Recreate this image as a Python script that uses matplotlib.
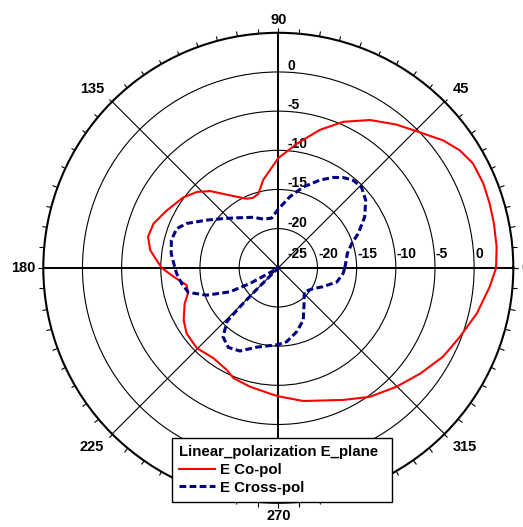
import numpy as np
import matplotlib
matplotlib.use("Agg")
import matplotlib.pyplot as plt
from matplotlib.ticker import MultipleLocator
from matplotlib.transforms import offset_copy

plt.rcParams["font.family"] = ["Liberation Sans", "DejaVu Sans"]
plt.rcParams["font.weight"] = "bold"

# ---------------------------------------------------------------------------
# Data (angle in degrees, level in dB)
# ---------------------------------------------------------------------------
co_theta = [0, 5.5, 11.6, 16.9, 22.4, 28.2, 32.9, 37.7, 44.7, 50.5, 58.2, 66,
            73.2, 81.6, 90, 94.9, 99.7, 105, 109.7, 114.7, 123.6, 131.6, 137,
            143.5, 152.7, 160.5, 166.6, 172.2, 180, 184.9, 190.7, 195.9, 200.9,
            208.9, 215.6, 224.6, 234.4, 243.2, 247.9, 256.6, 266.2, 270, 280.6,
            296.2, 305.4, 314.8, 323.3, 331.7, 339.2, 347, 354.9, 360]
co_db = [2.8, 3.0, 3.1, 3.2, 3.3, 3.2, 2.6, 1.6, -0.2, -1.3, -2.8, -4.6,
         -6.6, -9.0, -11.0, -12.5, -13.6, -15.2, -15.5, -15.3, -13.9, -11.9, -10.8,
         -9.9, -9.0, -8.1, -7.9, -8.5, -10.1, -11.6, -13.1, -13.0, -12.2,
         -11.2, -10.6, -10.4, -10.8, -10.4, -9.8, -9.4, -8.9, -8.6, -7.7,
         -6.2, -4.8, -3.6, -2.4, -1.1, -0.2, 1.0, 2.1, 2.8]

cx_theta = [0, 11.7, 18.4, 23.2, 30.5, 37.7, 44.2, 49.5, 54.2, 58.7, 64.6, 72.8,
            80.7, 90, 97.7, 107, 116.4, 129.8, 138, 146.4, 154.2, 158.9, 165.5,
            172.3, 180, 183.2, 189.2, 195.3, 200.9, 206.4, 209, 210, 212, 222,
            225, 225.5, 226.3, 231.4, 237.9, 245.2, 254.8, 266.3, 270, 276.4,
            286, 295.5, 306, 317.3, 329.4, 337.1, 346.5, 355, 360]
cx_db = [-16.5, -16.0, -15.1, -13.9, -12.2, -10.9, -10.2, -10.3, -10.8, -11.5, -12.6, -14.2,
         -15.8, -17.5, -18.6, -18.5, -17.8, -16.7, -15.6, -14.0, -12.0, -11.1, -10.9,
         -11.2, -11.8, -12.0, -12.5, -13.1, -15.2, -18.1, -20.9, -23.8, -25, -25,
         -21, -18, -15.5, -13.7, -13.0, -13.3, -14.5, -15.1, -15.2, -15.5,
         -16.5, -17.6, -19.4, -20.5, -19.8, -18.8, -17.3, -16.7, -16.5]

angle_labels = [0, 45, 90, 135, 180, 225, 270, 315]
ring_values = [-20, -15, -10, -5, 0]
r_min, r_max = -25, 5

fig = plt.figure(figsize=(5.23, 5.27), dpi=100)
ax = fig.add_axes([43.3 / 523, (527 - 267.8 - 235) / 527, 470 / 523, 470 / 527],
                  projection="polar")

ax.plot(np.deg2rad(co_theta), co_db, color="#ff0000", lw=1.5, label="E Co-pol", zorder=4)
ax.plot(np.deg2rad(cx_theta), cx_db, color="#000080", lw=2.2,
        ls=(0, (2.2, 1.1)), label="E Cross-pol", zorder=4)

ax.set_rlim(r_min, r_max)
ax.set_rticks(ring_values)
ax.set_yticklabels([])
ax.set_thetagrids(angle_labels, labels=[""] * len(angle_labels))
ax.grid(True, color="black", lw=0.8)
for i, gl in enumerate(ax.xaxis.get_gridlines()):
    if i % 2 == 0:
        gl.set_linewidth(1.4)
ax.spines["polar"].set_linewidth(1.5)
ax.xaxis.set_minor_locator(MultipleLocator(np.deg2rad(5)))
# in polar axes tick2 sits on the outer circle; "out" there points inwards
ax.tick_params(axis="x", which="both", bottom=False, top=True, direction="out",
               length=3.5, width=0.8, color="black")

# angular labels just outside the outer circle
for a in angle_labels:
    c, s = np.cos(np.deg2rad(a)), np.sin(np.deg2rad(a))
    ha = "left" if c > 0.1 else ("right" if c < -0.1 else "center")
    va = "baseline" if s > 0.1 else ("top" if s < -0.1 else "center")
    dx = 8 * np.sign(round(c, 3))
    dy = 9 * np.sign(round(s, 3)) if s > 0 else 6 * np.sign(round(s, 3))
    tr = offset_copy(ax.transData, fig=fig, x=dx, y=dy, units="dots")
    ax.text(np.deg2rad(a), r_max, str(a), transform=tr, ha=ha, va=va,
            fontsize=10.5, fontweight="bold", clip_on=False)

# radial labels along 0 deg and 90 deg
tr_h = offset_copy(ax.transData, fig=fig, x=1, y=10, units="dots")
tr_v = offset_copy(ax.transData, fig=fig, x=9, y=2, units="dots")
tr_c = offset_copy(ax.transData, fig=fig, x=9, y=10, units="dots")
for v in ring_values:
    ax.text(0, v, str(v), transform=tr_h, ha="left", va="baseline", fontsize=10)
    ax.text(np.pi / 2, v, str(v), transform=tr_v, ha="left", va="baseline", fontsize=10)
ax.text(0, r_min, str(r_min), transform=tr_c, ha="left", va="baseline", fontsize=10)

leg = ax.legend(loc="upper left",
                bbox_to_anchor=(172 / 523, (527 - 501) / 527, 220 / 523, 63 / 527),
                bbox_transform=fig.transFigure, borderaxespad=0, mode="expand",
                title="Linear_polarization E_plane", alignment="left",
                title_fontproperties={"weight": "bold", "size": 10.8},
                prop={"weight": "bold", "size": 10.8},
                fancybox=False, framealpha=1, edgecolor="black",
                handlelength=2.4, handletextpad=0.35, labelspacing=0.25,
                borderpad=0.47)
leg.get_frame().set_linewidth(1.0)
leg.set_zorder(10)

fig.savefig("out.png", dpi=100)
